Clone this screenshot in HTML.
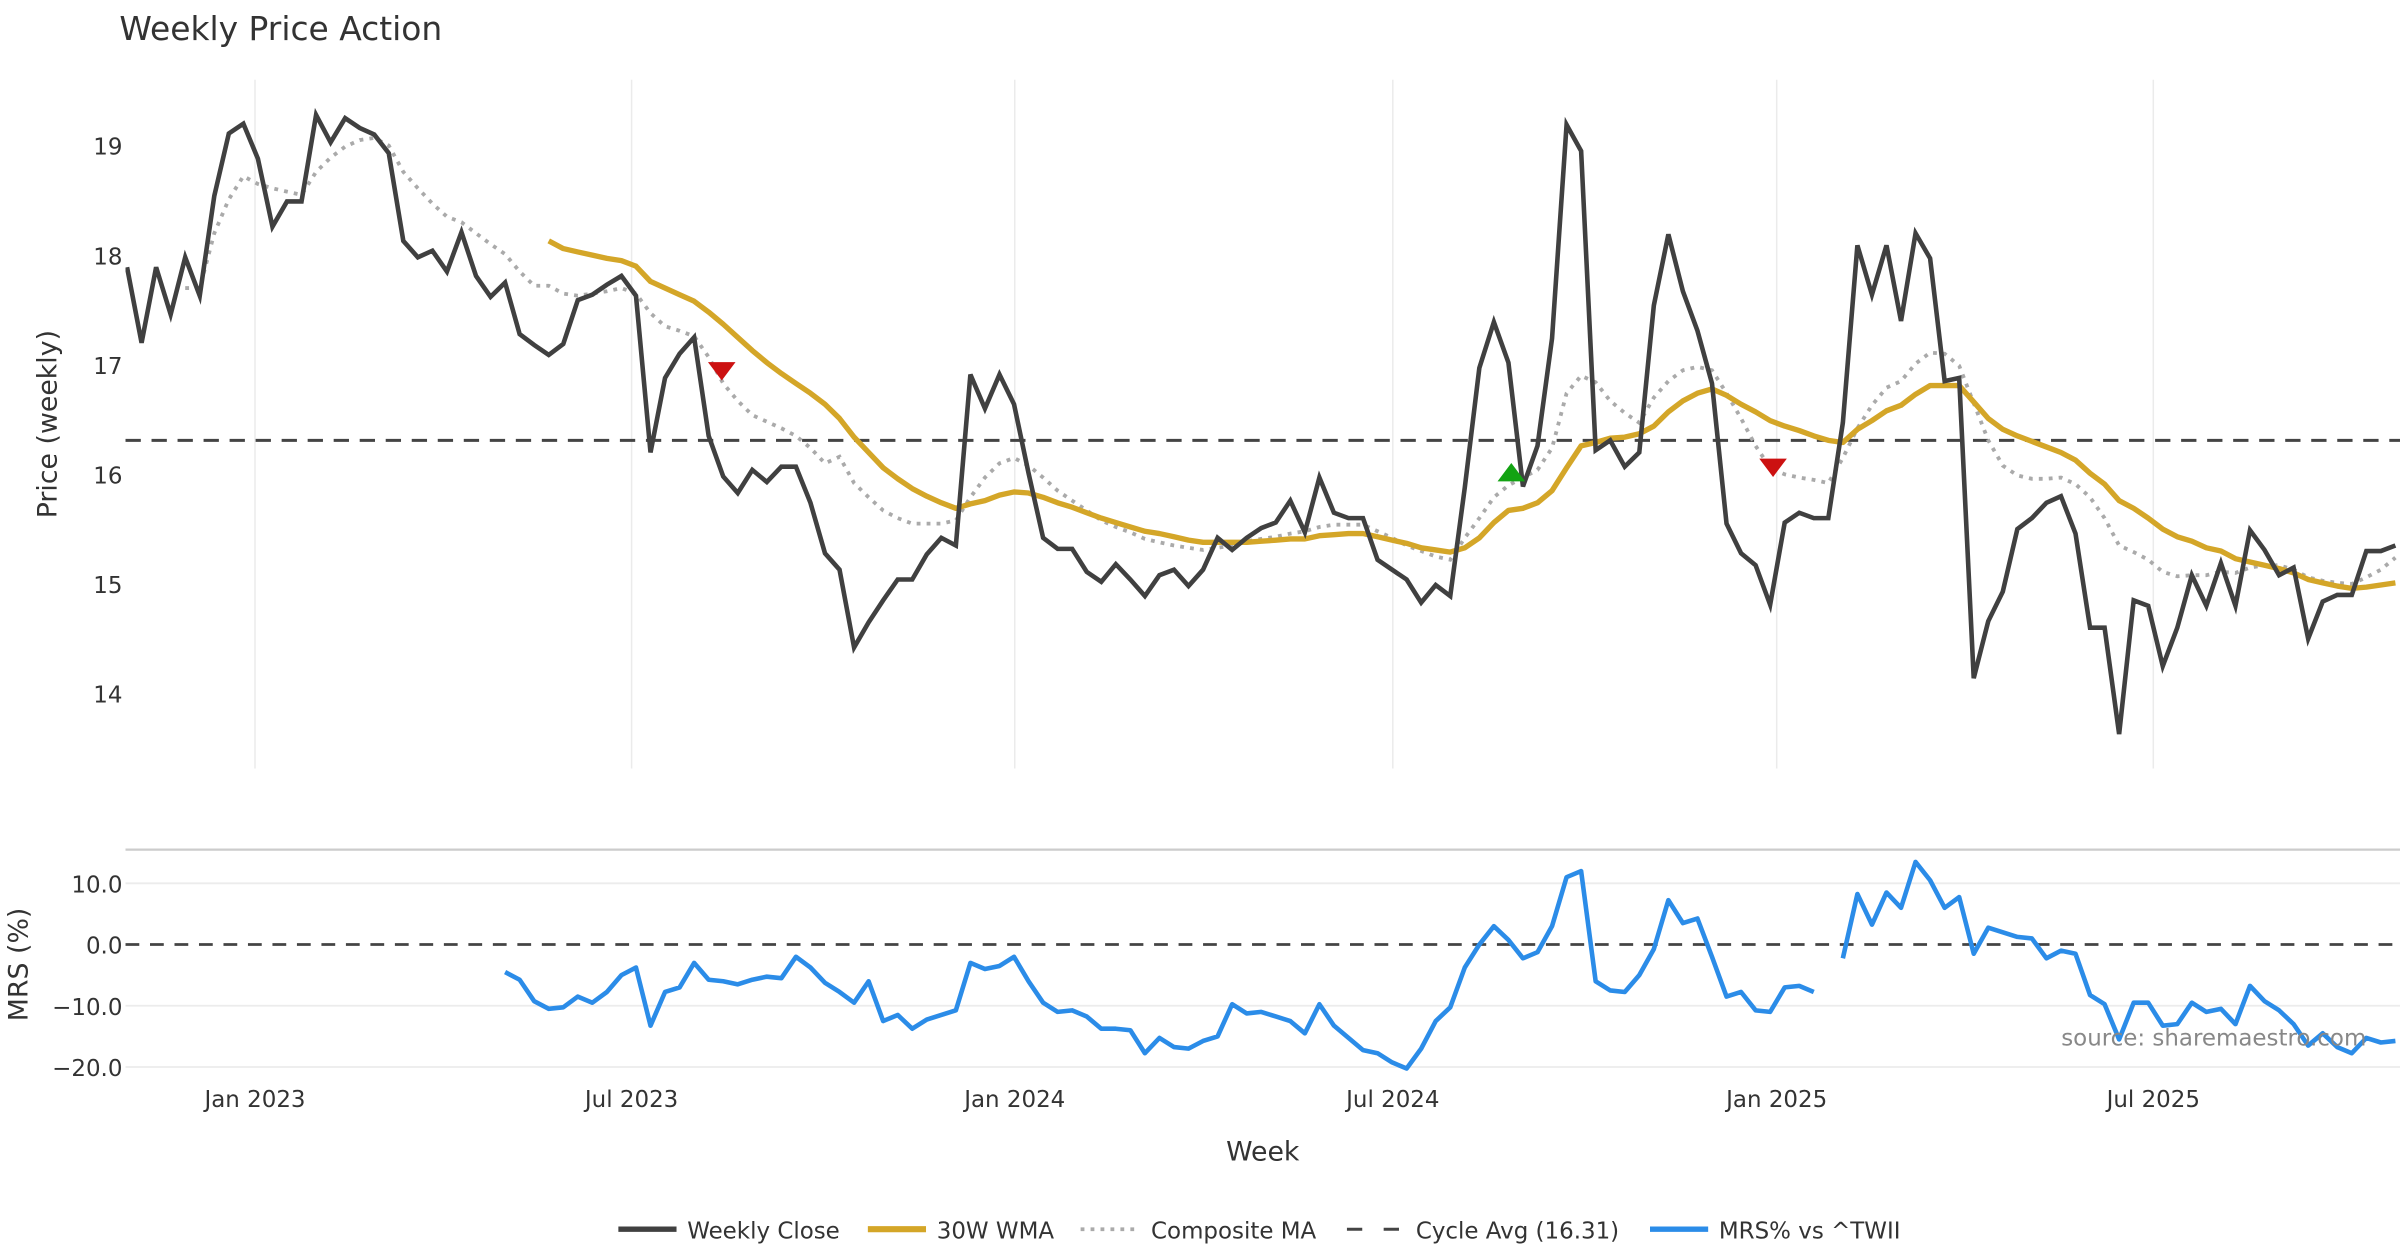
<!DOCTYPE html>
<html><head><meta charset="utf-8">
<style>
html,body{margin:0;padding:0;background:#fff;}
svg{display:block;font-family:"DejaVu Sans","Liberation Sans",sans-serif;}
</style></head>
<body>
<svg id="chart" width="2400" height="1260" viewBox="0 0 1568 823" xmlns="http://www.w3.org/2000/svg">
<defs>
<clipPath id="clipP"><rect x="82" y="40" width="1486" height="470"/></clipPath>
<clipPath id="clipM"><rect x="82" y="550" width="1486" height="160"/></clipPath>
</defs>
<text x="78" y="26" font-size="21.5" fill="#333">Weekly Price Action</text>
<g id="grid"></g>
<text transform="translate(37,277) rotate(-90)" text-anchor="middle" font-size="17.5" fill="#333">Price (weekly)</text>
<text transform="translate(18,630) rotate(-90)" text-anchor="middle" font-size="17.5" fill="#333">MRS (%)</text>
<text x="825" y="758" text-anchor="middle" font-size="17.5" fill="#333">Week</text>
<line x1="82" y1="555" x2="1568" y2="555" stroke="#ccc" stroke-width="1.5"/>
<g id="series-p" clip-path="url(#clipP)"></g>
<g id="series-m" clip-path="url(#clipM)"></g>
<text x="1546" y="683" text-anchor="end" font-size="15" fill="#888">source: sharemaestro.com</text>
<g id="legend"></g>
</svg>
<script>
const closeVals=[17.89,17.20,17.89,17.46,17.98,17.63,18.54,19.11,19.20,18.88,18.26,18.49,18.49,19.28,19.03,19.25,19.16,19.10,18.93,18.13,17.98,18.04,17.85,18.21,17.81,17.62,17.75,17.28,17.18,17.09,17.19,17.59,17.64,17.73,17.81,17.63,16.20,16.88,17.10,17.25,16.35,15.98,15.83,16.04,15.93,16.07,16.07,15.74,15.28,15.13,14.42,14.65,14.85,15.04,15.04,15.27,15.42,15.35,16.91,16.60,16.91,16.64,16.01,15.42,15.32,15.32,15.11,15.02,15.18,15.04,14.89,15.08,15.13,14.98,15.13,15.42,15.31,15.42,15.51,15.56,15.76,15.47,15.97,15.65,15.60,15.60,15.22,15.13,15.04,14.83,14.99,14.89,15.88,16.97,17.39,17.02,15.89,16.26,17.24,19.19,18.95,16.22,16.31,16.07,16.20,17.54,18.19,17.67,17.31,16.83,15.55,15.28,15.17,14.81,15.56,15.65,15.60,15.60,16.47,18.09,17.64,18.09,17.40,18.20,17.97,16.85,16.88,14.14,14.66,14.93,15.50,15.60,15.74,15.80,15.46,14.60,14.60,13.63,14.85,14.80,14.25,14.60,15.08,14.80,15.19,14.80,15.49,15.31,15.08,15.15,14.50,14.84,14.90,14.90,15.30,15.30,15.35];
const wmaVals=[null,null,null,null,null,null,null,null,null,null,null,null,null,null,null,null,null,null,null,null,null,null,null,null,null,null,null,null,null,18.13,18.06,18.03,18.00,17.97,17.95,17.90,17.76,17.70,17.64,17.58,17.48,17.37,17.25,17.13,17.02,16.92,16.83,16.74,16.64,16.51,16.34,16.20,16.06,15.96,15.87,15.80,15.74,15.69,15.73,15.76,15.81,15.84,15.83,15.79,15.74,15.70,15.65,15.60,15.56,15.52,15.48,15.46,15.43,15.40,15.38,15.38,15.38,15.38,15.39,15.40,15.41,15.41,15.44,15.45,15.46,15.46,15.43,15.40,15.37,15.33,15.31,15.29,15.33,15.42,15.56,15.67,15.69,15.74,15.85,16.06,16.26,16.29,16.33,16.34,16.37,16.44,16.57,16.67,16.74,16.78,16.72,16.64,16.57,16.49,16.44,16.40,16.35,16.31,16.29,16.41,16.49,16.58,16.63,16.73,16.81,16.81,16.81,16.66,16.51,16.41,16.35,16.30,16.25,16.20,16.13,16.01,15.91,15.76,15.69,15.60,15.50,15.43,15.39,15.33,15.30,15.23,15.20,15.17,15.14,15.10,15.04,15.01,14.98,14.96,14.97,14.99,15.01];
const compVals=[null,null,null,null,17.70,17.70,18.20,18.51,18.72,18.65,18.61,18.58,18.55,18.76,18.89,18.99,19.05,19.07,19.00,18.76,18.61,18.47,18.35,18.30,18.20,18.10,18.01,17.85,17.72,17.72,17.65,17.63,17.65,17.67,17.70,17.65,17.47,17.35,17.31,17.26,17.07,16.83,16.67,16.54,16.48,16.42,16.35,16.24,16.10,16.16,15.92,15.79,15.67,15.60,15.55,15.55,15.55,15.58,15.79,15.97,16.10,16.15,16.08,15.97,15.85,15.76,15.67,15.58,15.52,15.47,15.41,15.38,15.35,15.33,15.31,15.33,15.35,15.39,15.41,15.43,15.46,15.48,15.52,15.54,15.54,15.54,15.48,15.42,15.35,15.30,15.25,15.22,15.42,15.60,15.79,15.90,15.97,16.04,16.24,16.74,16.90,16.84,16.67,16.56,16.47,16.70,16.85,16.95,16.98,16.95,16.74,16.51,16.26,16.06,16.00,15.97,15.95,15.92,16.15,16.42,16.63,16.79,16.85,17.01,17.11,17.10,16.99,16.65,16.31,16.08,15.99,15.96,15.96,15.97,15.91,15.79,15.60,15.35,15.29,15.22,15.11,15.07,15.08,15.08,15.11,15.10,15.15,15.17,15.17,15.13,15.06,15.03,15.01,15.00,15.06,15.13,15.24];
const mrsVals=[null,null,null,null,null,null,null,null,null,null,null,null,null,null,null,null,null,null,null,null,null,null,null,null,null,null,-4.5,-5.75,-9.25,-10.5,-10.25,-8.5,-9.5,-7.75,-5,-3.75,-13.25,-7.75,-7,-3,-5.75,-6,-6.5,-5.75,-5.25,-5.5,-2,-3.75,-6.25,-7.75,-9.5,-6,-12.5,-11.5,-13.75,-12.25,-11.5,-10.75,-3,-4,-3.5,-2,-6,-9.5,-11,-10.75,-11.75,-13.75,-13.75,-14,-17.75,-15.25,-16.75,-17,-15.75,-15,-9.75,-11.25,-11,-11.75,-12.5,-14.5,-9.75,-13.25,-15.25,-17.25,-17.75,-19.25,-20.25,-17,-12.5,-10.25,-3.75,0,3,0.75,-2.25,-1.25,3,11,12,-6,-7.5,-7.75,-5,-0.75,7.25,3.5,4.25,-2,-8.5,-7.75,-10.75,-11,-7,-6.75,-7.75,null,-2.25,8.25,3.25,8.5,6,13.5,10.5,6,7.75,-1.5,2.75,2,1.25,1,-2.25,-1,-1.5,-8.25,-9.75,-15.5,-9.5,-9.5,-13.25,-13,-9.5,-11,-10.5,-13,-6.75,-9.25,-10.75,-13,-16.5,-14.5,-16.75,-17.75,-15.25,-16,-15.75];
const cycleAvg=16.31;
const priceTicks=[14,15,16,17,18,19];
const mrsTicks=[10,0,-10,-20];
const mrsTickLabels=["10.0","0.0","\u221210.0","\u221220.0"];
const dateTicks=["Jan 2023","Jul 2023","Jan 2024","Jul 2024","Jan 2025","Jul 2025"];
const dateTickWeeks=[8.8,34.7,61.05,87.05,113.45,139.35];
const sellSignals=[[40.9,16.94],[113.2,16.06]];
const buySignals=[[95.2,16.02]];

const NS="http://www.w3.org/2000/svg";
const xS=i=>83+9.5*i;
const yP=v=>95+(19-v)*71.6;
const yM=v=>617-v*4;
function mk(tag,attrs,parent){const e=document.createElementNS(NS,tag);for(const k in attrs)e.setAttribute(k,attrs[k]);parent.appendChild(e);return e;}
const grid=document.getElementById('grid'),sp=document.getElementById('series-p'),sm=document.getElementById('series-m'),lg=document.getElementById('legend');

dateTicks.forEach((t,k)=>{
  const x=xS(dateTickWeeks[k]);
  const l=mk('line',{x1:x,y1:52,x2:x,y2:502,stroke:'#ebebeb','stroke-width':1},grid);
  
  
  const tx=mk('text',{x:x,y:723,'text-anchor':'middle','font-size':15,fill:'#333'},grid);
  tx.textContent=t;
  
  
});
priceTicks.forEach(v=>{
  const tx=mk('text',{x:80,y:yP(v)+6,'text-anchor':'end','font-size':15,fill:'#333'},grid);
  tx.textContent=v;
  
  
});
mrsTicks.forEach((v,k)=>{
  if(v!==0){const l=mk('line',{x1:82,y1:yM(v),x2:1568,y2:yM(v),stroke:'#ececec','stroke-width':1.2},grid);
  
  }
  const tx=mk('text',{x:80,y:yM(v)+6,'text-anchor':'end','font-size':15,fill:'#333'},grid);
  tx.textContent=mrsTickLabels[k];
  
  
});
function path(vals,yf){let d='',pen=false;vals.forEach((v,i)=>{if(v===null){pen=false;return;}d+=(pen?'L':'M')+xS(i).toFixed(1)+','+yf(v).toFixed(1);pen=true;});return d;}

const cyc=mk('line',{x1:82,y1:yP(cycleAvg),x2:1568,y2:yP(cycleAvg),stroke:'#444','stroke-width':2,'stroke-dasharray':'10,7'},sp);


const pc=mk('path',{d:path(compVals,yP),fill:'none',stroke:'#aaa','stroke-width':2.5,'stroke-dasharray':'2.5,4'},sp);


const pw=mk('path',{d:path(wmaVals,yP),fill:'none',stroke:'#d4a628','stroke-width':3.5,'stroke-linejoin':'round'},sp);


const pcl=mk('path',{d:path(closeVals,yP),fill:'none',stroke:'#404040','stroke-width':3,'stroke-linejoin':'miter'},sp);


sellSignals.forEach(s=>{const x=xS(s[0]),y=yP(s[1]);
  const t=mk('polygon',{points:`${x-9},${y-6} ${x+9},${y-6} ${x},${y+6}`,fill:'#cc1111'},sp);
  
  });
buySignals.forEach(s=>{const x=xS(s[0]),y=yP(s[1]);
  const t=mk('polygon',{points:`${x-9},${y+6} ${x+9},${y+6} ${x},${y-6}`,fill:'#13a313'},sp);
  
  });

const z=mk('line',{x1:82,y1:yM(0),x2:1568,y2:yM(0),stroke:'#444','stroke-width':1.8,'stroke-dasharray':'9,7'},sm);


const pm=mk('path',{d:path(mrsVals,yM),fill:'none',stroke:'#2b8ce8','stroke-width':3,'stroke-linejoin':'round'},sm);



const legendItems=[["Weekly Close",404,449,{stroke:'#404040','stroke-width':3.5}],["30W WMA",567,612,{stroke:'#d4a628','stroke-width':4}],["Composite MA",706,752,{stroke:'#aaa','stroke-width':2.5,'stroke-dasharray':'2.5,4'}],["Cycle Avg (16.31)",880,925,{stroke:'#444','stroke-width':2,'stroke-dasharray':'10,14'}],["MRS% vs ^TWII",1078,1123,{stroke:'#2b8ce8','stroke-width':3.5}]];
legendItems.forEach(it=>{
  const g=mk('g',{},lg);
  
  
  mk('line',Object.assign({x1:it[1],y1:803,x2:it[1]+38,y2:803},it[3]),g);
  const t=mk('text',{x:it[2],y:809,'font-size':15,fill:'#333'},g);
  t.textContent=it[0];
});
</script>
</body></html>
